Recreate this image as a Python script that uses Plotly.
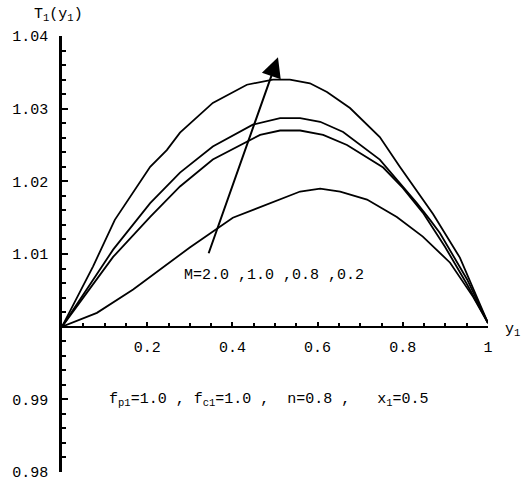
import plotly.graph_objects as go

# M = 2.0
x_M20 = [0, 0.073, 0.124, 0.207, 0.246, 0.277, 0.354, 0.434, 0.495, 0.535, 0.582, 0.622, 0.676, 0.746, 0.793, 0.840, 0.871, 0.934, 1.0]
T_M20 = [1.0, 1.0083, 1.0147, 1.022, 1.0243, 1.0267, 1.0308, 1.0333, 1.034, 1.034, 1.0335, 1.0323, 1.0301, 1.0261, 1.022, 1.018, 1.0155, 1.0095, 1.0005]
# M = 1.0
x_M10 = [0, 0.042, 0.120, 0.207, 0.277, 0.354, 0.448, 0.512, 0.559, 0.606, 0.660, 0.746, 0.793, 0.833, 0.864, 0.887, 0.951, 1.0]
T_M10 = [1.0, 1.0037, 1.0106, 1.017, 1.0212, 1.0248, 1.0278, 1.0287, 1.0287, 1.0282, 1.0268, 1.023, 1.0198, 1.017, 1.0147, 1.0129, 1.0065, 1.0005]
# M = 0.8
x_M08 = [0, 0.042, 0.120, 0.207, 0.277, 0.354, 0.465, 0.512, 0.559, 0.613, 0.669, 0.754, 0.800, 0.847, 0.899, 0.951, 1.0]
T_M08 = [1.0, 1.0033, 1.0096, 1.0151, 1.0193, 1.023, 1.0264, 1.027, 1.027, 1.0264, 1.025, 1.0219, 1.0191, 1.0157, 1.0110, 1.0058, 1.0005]
# M = 0.2
x_M02 = [0, 0.082, 0.167, 0.300, 0.401, 0.512, 0.559, 0.606, 0.653, 0.716, 0.786, 0.847, 0.911, 0.965, 1.0]
T_M02 = [1.0, 1.0019, 1.0051, 1.0109, 1.015, 1.0175, 1.0186, 1.019, 1.0186, 1.0175, 1.0151, 1.0124, 1.0088, 1.0041, 1.0005]

x_tickvals = [0.2, 0.4, 0.6, 0.8, 1.0]
x_ticktext = ["0.2", "0.4", "0.6", "0.8", "1"]
y_tickvals = [0.98, 0.99, 1.00, 1.01, 1.02, 1.03, 1.04]
y_ticktext = ["0.98", "0.99", "", "1.01", "1.02", "1.03", "1.04"]

FONT = "Liberation Mono"
Y0, Y1 = 0.97999, 1.04001


def ypaper(t):
    return (t - Y0) / (Y1 - Y0)


fig = go.Figure()
for xs, ts in [(x_M20, T_M20), (x_M10, T_M10), (x_M08, T_M08), (x_M02, T_M02)]:
    fig.add_trace(go.Scatter(x=xs, y=ts, mode="lines",
                             line=dict(color="black", width=1.8),
                             showlegend=False, hoverinfo="skip"))

fig.update_layout(
    width=526, height=482,
    margin=dict(l=62, r=38, t=36, b=10, autoexpand=False),
    paper_bgcolor="white", plot_bgcolor="white",
    font=dict(family=FONT, size=15, color="black"),
    xaxis=dict(range=[0, 1], anchor="free", position=ypaper(1.0),
               automargin=False,
               showline=True, linecolor="black", linewidth=2,
               showgrid=False, zeroline=False,
               tickmode="array", tickvals=x_tickvals, ticktext=x_ticktext,
               ticks="inside", ticklen=4, tickwidth=1.5, tickcolor="black",
               ticklabelstandoff=6, ticklabeloverflow="allow",
               minor=dict(tickmode="linear", tick0=0, dtick=0.05, ticks="inside",
                          ticklen=3, tickwidth=1.5, tickcolor="black"),
               tickfont=dict(family=FONT, size=15)),
    yaxis=dict(range=[Y0, Y1], automargin=False,
               showline=True, linecolor="black", linewidth=2.5,
               showgrid=False, zeroline=False,
               tickmode="array", tickvals=y_tickvals, ticktext=y_ticktext,
               ticks="inside", ticklen=6, tickwidth=2, tickcolor="black",
               ticklabelstandoff=8, ticklabeloverflow="allow",
               minor=dict(tickmode="linear", tick0=0.98, dtick=0.002, ticks="inside",
                          ticklen=4, tickwidth=2, tickcolor="black"),
               tickfont=dict(family=FONT, size=15)),
)

fig.add_annotation(x=0.507, y=1.0371, ax=0.343, ay=1.0099, xref="x", yref="y",
                   axref="x", ayref="y", text="", showarrow=True,
                   arrowhead=2, arrowsize=2, arrowwidth=2, arrowcolor="black")

fig.add_annotation(x=0.282, y=1.0071, xref="x", yref="y", xanchor="left", yanchor="middle",
                   text="M=2.0 ,1.0 ,0.8 ,0.2", showarrow=False,
                   font=dict(family=FONT, size=15, color="black"))

fig.add_annotation(x=0.106, y=0.9899, xref="x", yref="y", xanchor="left", yanchor="middle",
                   text="f<sub>p1</sub>=1.0 , f<sub>c1</sub>=1.0 ,\u00a0 n=0.8 ,\u00a0\u00a0 x<sub>1</sub>=0.5",
                   showarrow=False, font=dict(family=FONT, size=15, color="black"))

fig.add_annotation(x=1.035, y=ypaper(0.9995), xref="paper", yref="paper",
                   xanchor="left", yanchor="middle",
                   text="y<sub>1</sub>", showarrow=False,
                   font=dict(family=FONT, size=15, color="black"))

fig.add_annotation(x=-0.070, y=ypaper(1.0429), xref="paper", yref="paper",
                   xanchor="left", yanchor="middle",
                   text="T<sub>1</sub>(y<sub>1</sub>)", showarrow=False,
                   font=dict(family=FONT, size=15, color="black"))

fig.write_html("out.html")
